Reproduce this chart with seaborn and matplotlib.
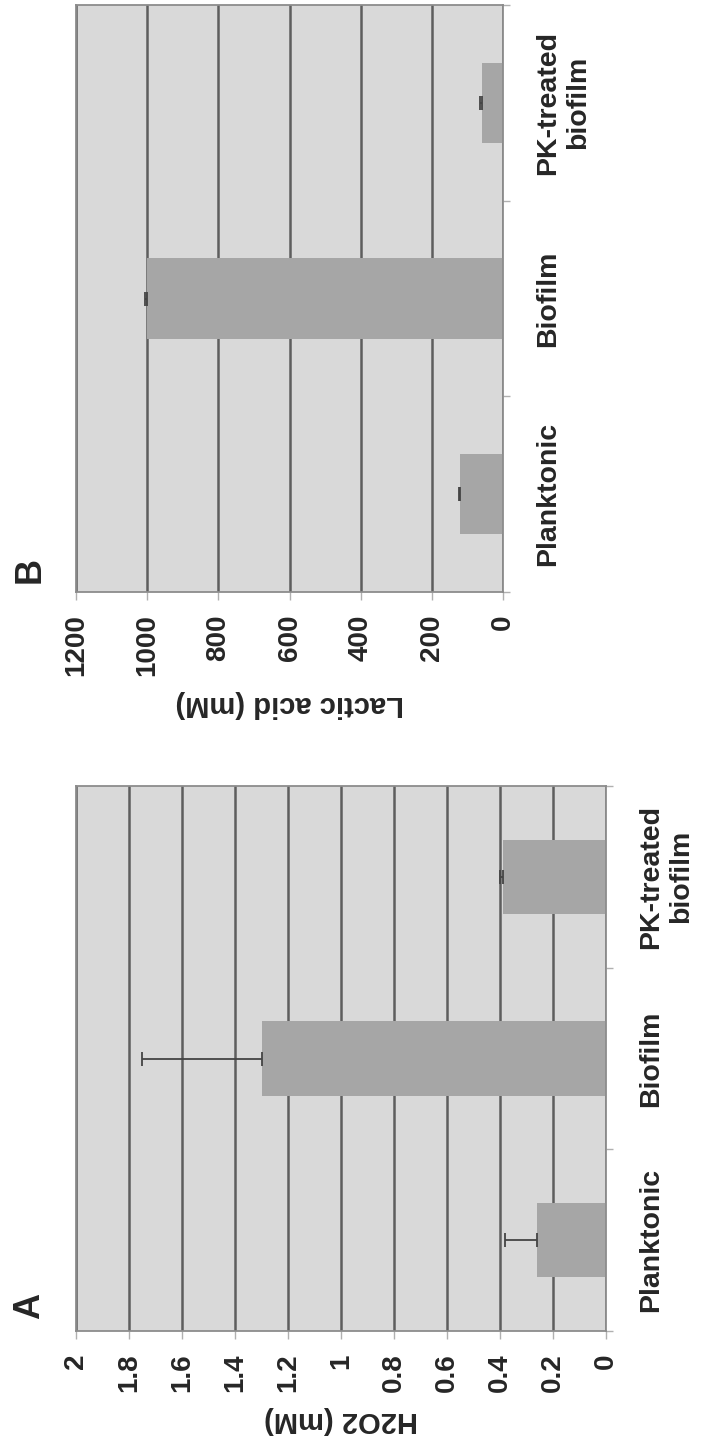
import matplotlib
matplotlib.use('Agg')
import matplotlib.pyplot as plt
import seaborn as sns
import pandas as pd
import numpy as np

# ---- data ----
categories = ['Planktonic', 'Biofilm', 'PK-treated\nbiofilm']
h2o2_values = [0.26, 1.30, 0.39]
h2o2_errors = [0.12, 0.45, 0.01]
lactic_values = [120, 1000, 60]
lactic_errors = [5, 5, 5]
h2o2_ticks = [0, 0.2, 0.4, 0.6, 0.8, 1.0, 1.2, 1.4, 1.6, 1.8, 2.0]
h2o2_ticklabels = ['0', '0.2', '0.4', '0.6', '0.8', '1', '1.2', '1.4', '1.6', '1.8', '2']
lactic_ticks = [0, 200, 400, 600, 800, 1000, 1200]
lactic_ticklabels = ['0', '200', '400', '600', '800', '1000', '1200']

BAR = '#a6a6a6'
BG = '#d9d9d9'
GRID = '#5e5e5e'
SPINE = '#8c8c8c'

sns.set_theme(style='white')
plt.rcParams['font.family'] = ['Liberation Sans', 'DejaVu Sans']

W, H = 701, 1447
fig = plt.figure(figsize=(W / 100, H / 100), dpi=100)
fig.patch.set_facecolor('white')


def px_axes(x0, y0, x1, y1):
    return fig.add_axes([x0 / W, 1 - y1 / H, (x1 - x0) / W, (y1 - y0) / H])


axB = px_axes(76, 5, 503, 592)
axA = px_axes(76, 786, 606, 1331)


def draw(ax, values, errors, ticks, ticklabels, xlabel):
    df = pd.DataFrame({'cat': categories, 'val': values})
    sns.barplot(data=df, x='val', y='cat', orient='h', color=BAR, width=0.41,
                saturation=1, errorbar=None, ax=ax, linewidth=0)
    pos = np.arange(len(categories))
    ax.errorbar(values, pos, xerr=[np.zeros(len(values)), errors], fmt='none',
                ecolor='#444444', elinewidth=1.3, capsize=4.7, capthick=1.3, zorder=4)
    ax.set_ylim(-0.5, len(categories) - 0.5)
    ax.set_xlim(ticks[-1], ticks[0])
    ax.set_facecolor(BG)
    ax.set_axisbelow(True)
    ax.set_xticks(ticks)
    ax.set_xticklabels(ticklabels, rotation=90, va='top', ha='center',
                       fontsize=20, fontweight='bold')
    ax.grid(axis='x', color=GRID, linewidth=1.8)
    ax.grid(axis='y', visible=False)
    ax.yaxis.tick_right()
    ax.set_yticks(pos)
    ax.set_yticks(np.arange(len(categories) + 1) - 0.5, minor=True)
    ax.set_yticklabels(categories, rotation=90, ha='left', va='center',
                       fontsize=20.5, fontweight='bold', multialignment='center')
    ax.tick_params(axis='x', bottom=True, length=6, width=1, color='#b0b0b0', pad=10)
    ax.tick_params(axis='y', which='major', right=True, left=False, length=0, pad=23)
    ax.tick_params(axis='y', which='minor', right=True, left=False, length=5, width=1,
                   color='#b0b0b0')
    for s in ax.spines.values():
        s.set_visible(True)
        s.set_color(SPINE)
        s.set_linewidth(1.3)
    ax.set_ylabel('')
    ax.set_xlabel(xlabel, rotation=180, fontsize=21, fontweight='bold', labelpad=10)


draw(axA, h2o2_values, h2o2_errors, h2o2_ticks, h2o2_ticklabels, 'H2O2 (mM)')
draw(axB, lactic_values, lactic_errors, lactic_ticks, lactic_ticklabels, 'Lactic acid (mM)')

fig.text(30 / W, 1 - 1306 / H, 'A', rotation=90, fontsize=26, fontweight='bold',
         ha='center', va='center')
fig.text(30 / W, 1 - 570 / H, 'B', rotation=90, fontsize=26, fontweight='bold',
         ha='center', va='center')

fig.savefig('out.png', dpi=100)
